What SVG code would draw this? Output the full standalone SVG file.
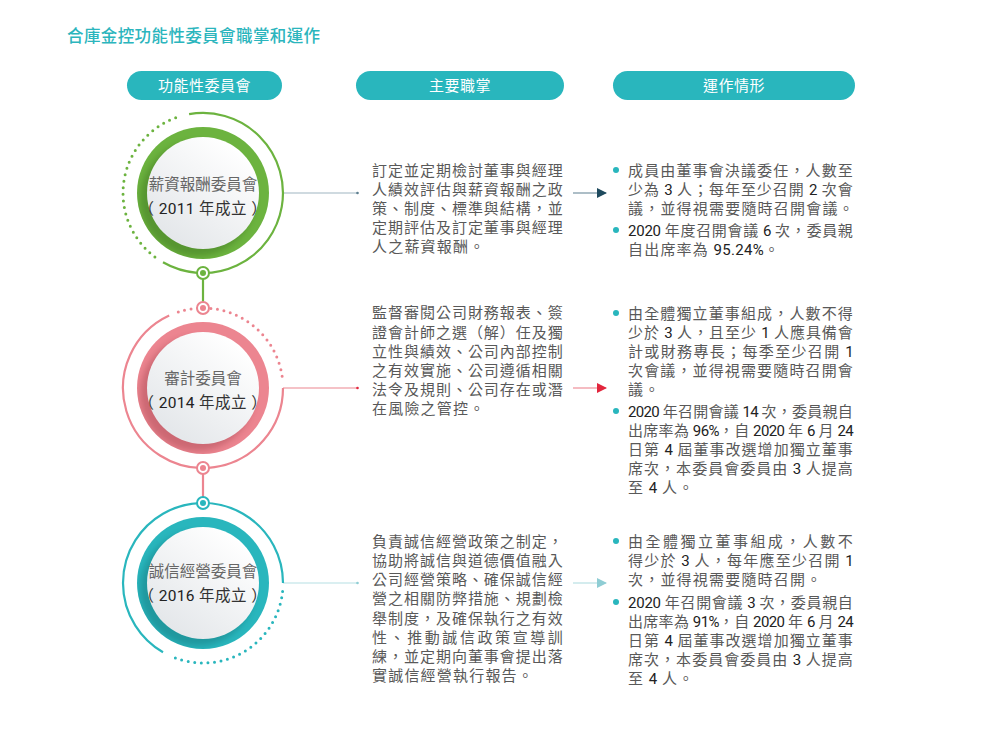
<svg xmlns="http://www.w3.org/2000/svg" width="1000" height="747" viewBox="0 0 1000 747">
<defs>
<style>
.t{font-family:"Noto Sans CJK TC","Noto Sans CJK SC",sans-serif;}
.title{font-size:16.5px;fill:#2bb5bd;font-weight:500;letter-spacing:0.4px;}
.hd{font-size:15px;fill:#ffffff;text-anchor:middle;letter-spacing:0.5px;}
.body{font-size:15px;fill:#595959;letter-spacing:1.2px;}
.cn{font-size:15.5px;fill:#666;text-anchor:middle;}
.cy{font-size:15.5px;fill:#333;text-anchor:middle;letter-spacing:0.6px;}
.n{font-family:Roboto,"Liberation Sans",sans-serif;fill:#222;letter-spacing:0.3px;}
.dot{fill:none;stroke-width:3;stroke-linecap:round;stroke-dasharray:0 6.6;}
.ring{fill:none;stroke-width:2.2;}
</style>
<linearGradient id="wg" x1="0.8" y1="0.1" x2="0.2" y2="0.9">
<stop offset="0" stop-color="#ffffff"/>
<stop offset="1" stop-color="#e4e7ea"/>
</linearGradient>
<filter id="blur" x="-30%" y="-30%" width="160%" height="160%"><feGaussianBlur stdDeviation="3"/></filter>
<clipPath id="c1"><circle cx="203" cy="193" r="66"/></clipPath>
<clipPath id="c2"><circle cx="203" cy="388" r="66"/></clipPath>
<clipPath id="c3"><circle cx="203" cy="583" r="66"/></clipPath>
<marker id="ah1" viewBox="0 0 10 10" refX="9" refY="5" markerWidth="10" markerHeight="10" markerUnits="userSpaceOnUse" orient="auto"><path d="M0,0L10,5L0,10z" fill="#1f4a5e"/></marker>
<marker id="ah2" viewBox="0 0 10 10" refX="9" refY="5" markerWidth="10" markerHeight="10" markerUnits="userSpaceOnUse" orient="auto"><path d="M0,0L10,5L0,10z" fill="#e2263d"/></marker>
<marker id="ah3" viewBox="0 0 10 10" refX="9" refY="5" markerWidth="10" markerHeight="10" markerUnits="userSpaceOnUse" orient="auto"><path d="M0,0L10,5L0,10z" fill="#8fcdd4"/></marker>
</defs>
<rect width="1000" height="747" fill="#ffffff"/>

<text class="t title" x="67" y="42">合庫金控功能性委員會職掌和運作</text>

<g id="headers">
<rect x="127" y="71" width="155" height="29" rx="14.5" fill="#29b6bd"/>
<text class="t hd" x="204.5" y="91">功能性委員會</text>
<rect x="356" y="71" width="208" height="29" rx="14.5" fill="#29b6bd"/>
<text class="t hd" x="460" y="91">主要職掌</text>
<rect x="613" y="71" width="242" height="29" rx="14.5" fill="#29b6bd"/>
<text class="t hd" x="734" y="91">運作情形</text>
</g>

<g id="connectors">
<line x1="203" y1="279" x2="203" y2="302" stroke="#6cb33f" stroke-width="2.2"/>
<line x1="203" y1="474" x2="203" y2="497" stroke="#ec8590" stroke-width="2.2"/>
<line x1="283" y1="193" x2="357" y2="193" stroke="#9fb6c2" stroke-width="1.2"/>
<circle cx="357.5" cy="193" r="1.3" fill="#5d7f8f"/>
<line x1="283" y1="388" x2="357" y2="388" stroke="#ec8590" stroke-width="1.2"/>
<circle cx="357.5" cy="388" r="1.3" fill="#e2263d"/>
<line x1="283" y1="583" x2="357" y2="583" stroke="#b5dfe3" stroke-width="1.2"/>
<circle cx="357.5" cy="583" r="1.3" fill="#8fcdd4"/>
<line x1="573" y1="193" x2="606" y2="193" stroke="#5d7f8f" stroke-width="1.2" marker-end="url(#ah1)"/>
<line x1="573" y1="388" x2="606" y2="388" stroke="#ec7a86" stroke-width="1.2" marker-end="url(#ah2)"/>
<line x1="573" y1="583" x2="606" y2="583" stroke="#a9dade" stroke-width="1.2" marker-end="url(#ah3)"/>
</g>

<g id="node-remuneration">
<path class="ring" d="M189.1,114.2 A80,80 0 1 1 163,262.3" stroke="#6cb33f"/>
<path class="dot" d="M154.9,256.9 A80,80 0 0 1 179.6,116.5" stroke="#6cb33f"/>
<circle cx="203" cy="193" r="66" fill="#6cb33f"/>
<g clip-path="url(#c1)"><circle cx="197" cy="199" r="57" fill="#2f5f12" opacity="0.35" filter="url(#blur)"/></g>
<circle cx="203" cy="193" r="56" fill="url(#wg)"/>
<circle cx="203" cy="273" r="6" fill="#ffffff" stroke="#6cb33f" stroke-width="2"/>
<circle cx="203" cy="273" r="3" fill="#6cb33f"/>
<text class="t cn" x="203" y="190">薪資報酬委員會</text>
<text class="t cy" x="203" y="214">（ <tspan class="n">2011</tspan> 年成立 ）</text>
</g>

<g id="node-audit">
<path class="ring" d="M283,388 A80,80 0 1 1 169.2,315.5" stroke="#ec8590"/>
<path class="dot" d="M178.3,311.9 A80,80 0 0 1 282.7,381" stroke="#ec8590"/>
<circle cx="203" cy="388" r="66" fill="#ec8590"/>
<g clip-path="url(#c2)"><circle cx="197" cy="394" r="57" fill="#8a2e38" opacity="0.32" filter="url(#blur)"/></g>
<circle cx="203" cy="388" r="56" fill="url(#wg)"/>
<circle cx="203" cy="308" r="6" fill="#ffffff" stroke="#ec8590" stroke-width="2"/>
<circle cx="203" cy="308" r="3" fill="#ec8590"/>
<circle cx="203" cy="468" r="6" fill="#ffffff" stroke="#ec8590" stroke-width="2"/>
<circle cx="203" cy="468" r="3" fill="#ec8590"/>
<text class="t cn" x="203" y="384">審計委員會</text>
<text class="t cy" x="203" y="408">（ <tspan class="n">2014</tspan> 年成立 ）</text>
</g>

<g id="node-integrity">
<path class="ring" d="M163,652.3 A80,80 0 1 1 283,583" stroke="#29b6bd"/>
<path class="dot" d="M282.6,591.4 A80,80 0 0 1 171.7,656.6" stroke="#29b6bd"/>
<circle cx="203" cy="583" r="66" fill="#29b6bd"/>
<g clip-path="url(#c3)"><circle cx="197" cy="589" r="57" fill="#0c5a5e" opacity="0.32" filter="url(#blur)"/></g>
<circle cx="203" cy="583" r="56" fill="url(#wg)"/>
<circle cx="203" cy="503" r="6" fill="#ffffff" stroke="#29b6bd" stroke-width="2"/>
<circle cx="203" cy="503" r="3" fill="#29b6bd"/>
<text class="t cn" x="203" y="577">誠信經營委員會</text>
<text class="t cy" x="203" y="601">（ <tspan class="n">2016</tspan> 年成立 ）</text>
</g>

<g id="duties">
<text class="t body" x="372" y="175.5" textLength="192">訂定並定期檢討董事與經理</text>
<text class="t body" x="372" y="194.5" textLength="192">人績效評估與薪資報酬之政</text>
<text class="t body" x="372" y="213.5" textLength="192">策、制度、標準與結構，並</text>
<text class="t body" x="372" y="232.5" textLength="192">定期評估及訂定董事與經理</text>
<text class="t body" x="372" y="251.5">人之薪資報酬。</text>

<text class="t body" x="372" y="318" textLength="192">監督審閱公司財務報表、簽</text>
<text class="t body" x="372" y="337.5" textLength="192">證會計師之選（解）任及獨</text>
<text class="t body" x="372" y="356.5" textLength="192">立性與績效、公司內部控制</text>
<text class="t body" x="372" y="375.5" textLength="192">之有效實施、公司遵循相關</text>
<text class="t body" x="372" y="394.5" textLength="192">法令及規則、公司存在或潛</text>
<text class="t body" x="372" y="413.5">在風險之管控。</text>

<text class="t body" x="372" y="546.5" textLength="192">負責誠信經營政策之制定，</text>
<text class="t body" x="372" y="565.5" textLength="192">協助將誠信與道德價值融入</text>
<text class="t body" x="372" y="585" textLength="192">公司經營策略、確保誠信經</text>
<text class="t body" x="372" y="604" textLength="192">營之相關防弊措施、規劃檢</text>
<text class="t body" x="372" y="623.5" textLength="192">舉制度，及確保執行之有效</text>
<text class="t body" x="372" y="642.5" textLength="192">性、推動誠信政策宣導訓</text>
<text class="t body" x="372" y="662" textLength="192">練，並定期向董事會提出落</text>
<text class="t body" x="372" y="681">實誠信經營執行報告。</text>
</g>

<g id="operations">
<circle cx="616" cy="170" r="3" fill="#29b6bd"/>
<text class="t body" x="628" y="175.5" textLength="226">成員由董事會決議委任，人數至</text>
<text class="t body" x="628" y="194.5" textLength="226">少為 <tspan class="n">3</tspan> 人；每年至少召開 <tspan class="n">2</tspan> 次會</text>
<text class="t body" x="628" y="213.5">議，並得視需要隨時召開會議。</text>
<circle cx="616" cy="230" r="3" fill="#29b6bd"/>
<text class="t body" x="628" y="235.5" textLength="226"><tspan class="n">2020</tspan> 年度召開會議 <tspan class="n">6</tspan> 次，委員親</text>
<text class="t body" x="628" y="254.5">自出席率為 <tspan class="n">95.24%</tspan>。</text>

<circle cx="616" cy="313" r="3" fill="#29b6bd"/>
<text class="t body" x="628" y="318.5" textLength="226">由全體獨立董事組成，人數不得</text>
<text class="t body" x="628" y="338" textLength="226">少於 <tspan class="n">3</tspan> 人，且至少 <tspan class="n">1</tspan> 人應具備會</text>
<text class="t body" x="628" y="357" textLength="226">計或財務專長；每季至少召開 <tspan class="n">1</tspan></text>
<text class="t body" x="628" y="376" textLength="226">次會議，並得視需要隨時召開會</text>
<text class="t body" x="628" y="395">議。</text>
<circle cx="616" cy="411" r="3" fill="#29b6bd"/>
<text class="t body" x="628" y="416.5" textLength="226"><tspan class="n">2020</tspan> 年召開會議 <tspan class="n">14</tspan> 次，委員親自</text>
<text class="t body" x="628" y="435.5" textLength="226">出席率為 <tspan class="n">96%</tspan>，自 <tspan class="n">2020</tspan> 年 <tspan class="n">6</tspan> 月 <tspan class="n">24</tspan></text>
<text class="t body" x="628" y="454.5" textLength="226">日第 <tspan class="n">4</tspan> 屆董事改選增加獨立董事</text>
<text class="t body" x="628" y="473.5" textLength="226">席次，本委員會委員由 <tspan class="n">3</tspan> 人提高</text>
<text class="t body" x="628" y="492.5">至 <tspan class="n">4</tspan> 人。</text>

<circle cx="616" cy="541" r="3" fill="#29b6bd"/>
<text class="t body" x="628" y="546.5" textLength="226">由全體獨立董事組成，人數不</text>
<text class="t body" x="628" y="565.5" textLength="226">得少於 <tspan class="n">3</tspan> 人，每年應至少召開 <tspan class="n">1</tspan></text>
<text class="t body" x="628" y="584.5">次，並得視需要隨時召開。</text>
<circle cx="616" cy="602" r="3" fill="#29b6bd"/>
<text class="t body" x="628" y="607.5" textLength="226"><tspan class="n">2020</tspan> 年召開會議 <tspan class="n">3</tspan> 次，委員親自</text>
<text class="t body" x="628" y="626.5" textLength="226">出席率為 <tspan class="n">91%</tspan>，自 <tspan class="n">2020</tspan> 年 <tspan class="n">6</tspan> 月 <tspan class="n">24</tspan></text>
<text class="t body" x="628" y="645.5" textLength="226">日第 <tspan class="n">4</tspan> 屆董事改選增加獨立董事</text>
<text class="t body" x="628" y="664.5" textLength="226">席次，本委員會委員由 <tspan class="n">3</tspan> 人提高</text>
<text class="t body" x="628" y="683.5">至 <tspan class="n">4</tspan> 人。</text>
</g>
</svg>
